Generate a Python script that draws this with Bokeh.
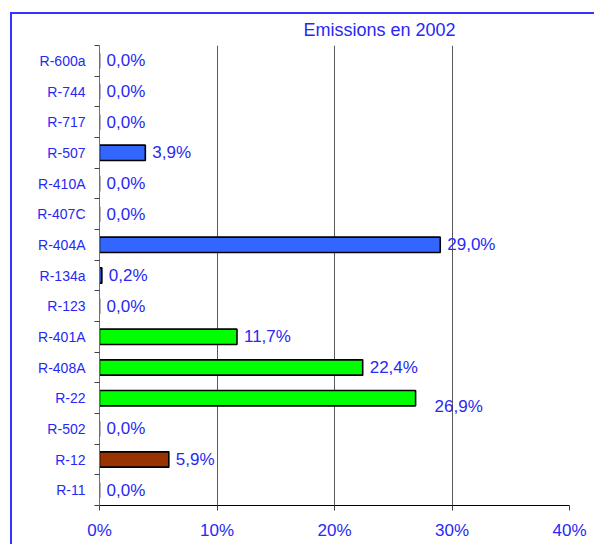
from bokeh.plotting import figure
from bokeh.models import ColumnDataSource, FixedTicker, Range1d, InlineStyleSheet
from bokeh.core.properties import value
from bokeh.embed import file_html
from bokeh.resources import INLINE

# Refrigerants, listed from the bottom of the chart to the top
refrigerants = ["R-11", "R-12", "R-502", "R-22", "R-408A", "R-401A", "R-123",
                "R-134a", "R-404A", "R-407C", "R-410A", "R-507", "R-717",
                "R-744", "R-600a"]
# Share of 2002 emissions, in percent
emissions_2002 = [0.0, 5.9, 0.0, 26.9, 22.4, 11.7, 0.0,
                  0.2, 29.0, 0.0, 0.0, 3.9, 0.0, 0.0, 0.0]
# Refrigerant family, used for the bar colour
families = ["CFC", "CFC", "CFC", "HCFC", "HCFC", "HCFC", "HCFC",
            "HFC", "HFC", "HFC", "HFC", "HFC", "natural", "natural", "natural"]
x_ticks = [0, 10, 20, 30, 40]
x_tick_labels = ["0%", "10%", "20%", "30%", "40%"]

family_colors = {"CFC": "#993300", "HCFC": "#00FF00", "HFC": "#3366FF", "natural": "#3366FF"}
TEXT_BLUE = "#2828F5"
FONT = "Liberation Sans"

n = len(refrigerants)
rows = [i + 0.5 for i in range(n)]
labels = [f"{v:.1f}".replace(".", ",") + "%" for v in emissions_2002]

# the R-22 value label sits a little below and to the right of its bar
label_dx = [19 if r == "R-22" else 7 for r in refrigerants]
label_dy = [8 if r == "R-22" else 0 for r in refrigerants]

source = ColumnDataSource(dict(
    row=rows, share=emissions_2002, name=refrigerants, label=labels,
    color=[family_colors[f] for f in families], dx=label_dx, dy=label_dy,
))

p = figure(width=594, height=544, output_backend="svg", toolbar_location=None,
           x_range=Range1d(0, 40), y_range=Range1d(0, n),
           min_border_left=99, min_border_right=25,
           min_border_top=45, min_border_bottom=39,
           title="Emissions en 2002")
p.outline_line_color = None
p.background_fill_color = "white"
p.border_fill_color = "white"

p.title.align = "left"
p.title.offset = 204
p.title.text_color = TEXT_BLUE
p.title.text_font = FONT
p.title.text_font_size = "18px"
p.title.text_font_style = "normal"
p.title.standoff = 11

p.hbar(y="row", left=0, right="share", height=0.5, source=source,
       fill_color="color", line_color="black", line_width=1.6)

p.text(x="share", y="row", text="label", source=source,
       x_offset="dx", y_offset="dy", text_baseline="middle", text_align="left",
       text_font=value(FONT), text_font_size="17px", text_color=TEXT_BLUE)

# x axis: percentages
xa = p.xaxis[0]
xa.ticker = FixedTicker(ticks=x_ticks, minor_ticks=[])
xa.major_label_overrides = dict(zip(x_ticks, x_tick_labels))
xa.axis_line_color = "black"
xa.axis_line_width = 1
xa.major_tick_line_color = "#404040"
xa.major_tick_out = 5
xa.major_tick_in = 0
xa.major_label_standoff = 10
xa.major_label_text_font = FONT
xa.major_label_text_font_size = "17px"
xa.major_label_text_color = TEXT_BLUE

# y axis: one band per refrigerant, ticks on the band edges
ya = p.yaxis[0]
ya.ticker = FixedTicker(ticks=rows, minor_ticks=list(range(n + 1)))
ya.major_label_overrides = dict(zip(rows, refrigerants))
ya.axis_line_color = "#707070"
ya.major_tick_line_color = None
ya.major_tick_out = 0
ya.major_tick_in = 0
ya.minor_tick_line_color = "#404040"
ya.minor_tick_out = 5
ya.minor_tick_in = 0
ya.major_label_standoff = 9
ya.major_label_text_font = FONT
ya.major_label_text_font_size = "14px"
ya.major_label_text_color = TEXT_BLUE

p.xgrid.grid_line_color = "#5a5a5a"
p.xgrid.grid_line_width = 1
p.ygrid.grid_line_color = None

# chart-area border (top and left edges fall inside the page)
p.stylesheets = [InlineStyleSheet(css="""
:host { position: relative; }
:host::after {
  content: "";
  position: absolute;
  left: 10px; top: 12px; right: 0; bottom: 0;
  border-top: 2px solid #3333FF;
  border-left: 2px solid #3333FF;
  pointer-events: none;
  z-index: 10;
}
""")]

open("out.html", "w").write(file_html(p, INLINE))
